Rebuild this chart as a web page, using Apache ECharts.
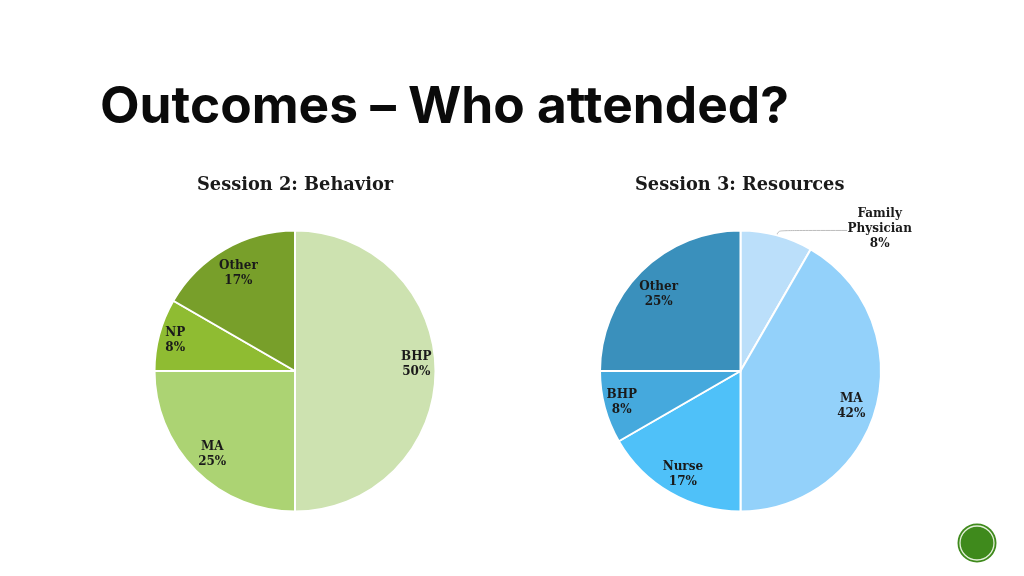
<!DOCTYPE html>
<html><head><meta charset="utf-8">
<style>html,body{margin:0;padding:0;background:#fff}#c{width:1024px;height:576px}</style>
<script src="https://cdn.jsdelivr.net/npm/echarts@6/dist/echarts.min.js"></script></head>
<body><div id="c"></div>
<script>
const pageTitle = 'Outcomes – Who attended?';
const titleLeft = 'Session 2: Behavior';
const titleRight = 'Session 3: Resources';
const catsLeft = ['BHP','MA','NP','Other'];
const valsLeft = [6,3,1,2];
const colorsLeft = ['#cde2b0','#acd373','#8fbc32','#789f2a'];
const catsRight = ['Family\nPhysician','MA','Nurse','BHP','Other'];
const valsRight = [1,5,2,1,3];
const colorsRight = ['#bbdffa','#93d1fa','#4fc1f9','#45a9dd','#3a90bc'];
const nudgeLeft = [[48,-7],[-31,32],[-49,-12],[-20,-34]];
const nudgeRight = [null,[40,16],[-21,40],[-48,12],[-30,-25]];

const labelFont = {fontFamily:'DejaVu Serif',fontWeight:'bold',fontSize:12,color:'#1a1a1a',lineHeight:15,align:'center'};
function pie(cats,vals,colors,nudges,cx){
  return {
    type:'pie',center:[cx,371],radius:[0,140.5],startAngle:90,clockwise:true,silent:true,animation:false,percentPrecision:0,
    itemStyle:{borderColor:'#fff',borderWidth:2},
    labelLine:{show:false},
    data:cats.map((n,i)=>{
      const d={name:n,value:vals[i],itemStyle:{color:colors[i]}};
      if(nudges[i]){d.label={position:'inside',offset:nudges[i],formatter:'{b}\n{d}%',...labelFont};}
      else{
        d.label={position:'outside',distanceToLabelLine:0,padding:[0,0,4,0],formatter:p=>p.name.split('\n').concat(p.percent+'%').map(s=>'{a|'+s+'}').join('\n'),
          rich:{a:{...labelFont,width:65,align:'center'}}};
        d.labelLine={show:true,length:5,length2:69,smooth:0.5,lineStyle:{color:'#bdbdbd',width:1}};
      }
      return d;
    })
  };
}
const chart=echarts.init(document.getElementById('c'),null,{renderer:'canvas'});
const sub={fontFamily:'DejaVu Serif',fontWeight:'bold',fontSize:17.8,color:'#1a1a1a'};
chart.setOption({
  animation:false,backgroundColor:'#fff',
  title:[
    {text:pageTitle,left:95,top:77,textStyle:{fontFamily:'Inter',fontWeight:'bold',fontSize:51.4,color:'#0a0a0a'}},
    {text:titleLeft,left:192,top:171,textStyle:sub},
    {text:titleRight,left:630,top:171,textStyle:sub}
  ],
  series:[pie(catsLeft,valsLeft,colorsLeft,nudgeLeft,295),pie(catsRight,valsRight,colorsRight,nudgeRight,740.5)],
  graphic:[
    {type:'circle',shape:{cx:977,cy:543,r:19.5},style:{fill:'#3f8a1c'},silent:true},
    {type:'circle',shape:{cx:977,cy:543,r:17},style:{fill:'none',stroke:'#e4f0da',lineWidth:1.3},silent:true}
  ]
});
</script></body></html>
